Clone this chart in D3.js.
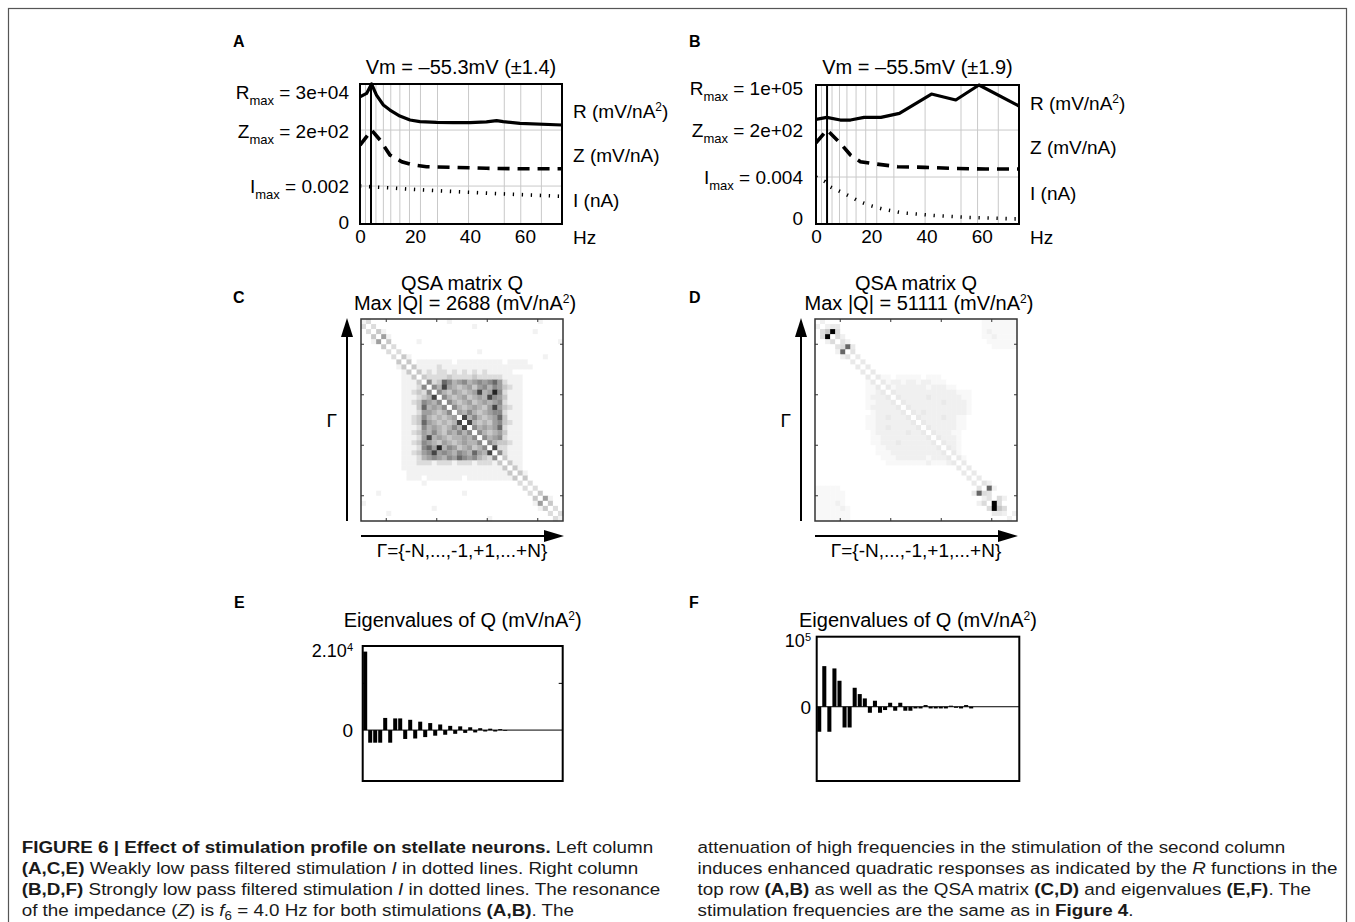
<!DOCTYPE html>
<html><head><meta charset="utf-8">
<script src="https://cdn.jsdelivr.net/npm/d3@7"></script>
<style>
body{margin:0;background:#fff}
svg{display:block}
text{font-family:"Liberation Sans",Arial,Helvetica,sans-serif;white-space:pre}
</style>
</head><body>
<svg id="fig" width="1355" height="922"></svg>
<script>
// ---------------- DATA ----------------
const xTicks = [0, 20, 40, 60];
const gridFreq = [2, 5.8, 8.5, 11.2, 14.5, 18, 22, 28.2, 39.5, 52.5, 58.5, 66];
const resonanceHz = 4;

// Panel A (values as fraction of max)
const aRfreq = [0, 2.4, 4.2, 6.0, 8.5, 10.9, 14.5, 18.2, 21.8, 27.9, 33.9, 40, 46, 49.7, 52.1, 58.2, 73.5];
const aR     = [0.909, 0.933, 1.0, 0.921, 0.85, 0.814, 0.771, 0.743, 0.731, 0.726, 0.724, 0.724, 0.729, 0.738, 0.731, 0.719, 0.707];
const aZfreq = [0, 2.4, 4.2, 7.3, 10.9, 15.2, 19.4, 24.2, 33.9, 46, 58.2, 73.5];
const aZ     = [0.84, 0.93, 1.0, 0.894, 0.734, 0.663, 0.628, 0.61, 0.603, 0.593, 0.588, 0.588];
const aIfreq = [0, 10, 20, 30, 40, 50, 60, 73.5];
const aI     = [1.0, 0.955, 0.91, 0.87, 0.835, 0.80, 0.77, 0.73];
const aLevels = [1, 0.671, 0.271];   // R, Z, I reference lines

// Panel B
const bRfreq = [0, 3.9, 8.8, 12.5, 17.4, 23.5, 30.2, 41.8, 50.6, 59.0, 73.5];
const bR     = [0.753, 0.767, 0.748, 0.748, 0.767, 0.767, 0.796, 0.935, 0.892, 1.0, 0.849];
const bZfreq = [0, 4, 8.8, 12.5, 16.1, 19.8, 29.6, 39.4, 49.2, 61.4, 73.5];
const bZ     = [0.865, 1.0, 0.86, 0.734, 0.663, 0.646, 0.61, 0.603, 0.592, 0.585, 0.585];
const bIfreq = [0, 3.3, 5.1, 8.8, 12.5, 16.1, 19.8, 24.7, 30.8, 37, 43, 49.2, 55.3, 61.4, 71.2, 73.5];
const bI     = [1.0, 0.90, 0.79, 0.69, 0.58, 0.47, 0.39, 0.31, 0.24, 0.21, 0.18, 0.16, 0.14, 0.13, 0.11, 0.11];
const bLevels = [1, 0.676, 0.338];

// QSA matrices (grey level per cell, base-36 digits, row 0 = top)
const matrixC = [
"1200000000000000010000000000000000010000",
"2020000000000000000000100000000000000000",
"0203100000000000000000000000000000100000",
"0030510000000000000000000000000000000000",
"0015030000010000000000000000000000000001",
"0000302000000000000000000000000000000000",
"0000020200000000000000010000000000000000",
"0000002031000000000000000000000000001000",
"0000000303011111110111111111011110000000",
"0000000130311112111111111111111111000000",
"0000000013031212212121212111110000000000",
"0000000011303222232222322222111100000000",
"0000000011130623764564565675211100000000",
"0000000011126064854345356465321100000000",
"0000000011232606435434584596211100000000",
"0000000011123480643453454865311100000000",
"0000000011236546064345345456211100000000",
"0000000011137454606434543585321100000000",
"0000000011125543460546434566211100000000",
"0000000011236434345084643457311100000000",
"0000000011237543434808434356321100000000",
"0000000011126454346480645457211100000000",
"0000000011235464354646064345311100000000",
"0000000011125845434454606456211100000000",
"0000000011236543543454460643321100000000",
"0000000011126759465345346082211100000000",
"0000000011235685654654754806211100000000",
"0000000011124565465765643260311100000000",
"0000000011122212221222122213031100000000",
"0000000011111111111111111111303100000000",
"0000000001111111111111111111130310000000",
"0000000001110111111101111111113030000000",
"0000000000001000000000000000000202000000",
"0000000000000000000000000000000020200000",
"0001000000000000000010000000000002030000",
"0000000000000000000000000000000000305100",
"1000000000000000000000000000000000150300",
"0000000000000010000000000000000000013020",
"0000010000000000000000000000000000000202",
"0000000000000000000000000100000000000021"];
const matrixCdomain = [0, 1, 2, 6, 10];

const matrixD = [
"0200000000000000000000000000000001111111",
"2023300000000000000000000000000001111111",
"058z500000000000000000000000000001211111",
"05z0520000000000000000000000000001121111",
"0025042000000000000000000000000000111111",
"000045l300000000000000000000000000011111",
"00002l0400000000000000000000000000000000",
"0000024030000000000000000000000000000000",
"0000000303000000000000000000000000000000",
"0000000030300000000000000000000000000000",
"0000000003030000000000000000000000000000",
"0000000000303110111110111000000000000000",
"0000000000130312212212211100000000000000",
"0000000000113031222222122211000000000000",
"0000000000112303222222222222111000000000",
"0000000000122230322222322222211000000000",
"0000000000112223032222222322221000000000",
"0000000000122222303222222222221000000000",
"0000000000012222230323222222221000000000",
"0000000000112232223032222322110000000000",
"0000000000112222222303222222110000000000",
"0000000000112232222230322222110000000000",
"0000000000012222223223032221100000000000",
"0000000000011222222222303222100000000000",
"0000000000011222322222230322100000000000",
"0000000000001122222222223032100000000000",
"0000000000001112222222222303100000000000",
"0000000000000111222222122230310000000000",
"0000000000000011111111211123030000000000",
"0000000000000000000000000000303000000000",
"0000000000000000000000000000030300000000",
"0000000000000000000000000000003030000000",
"0000000000000000000000000000000304200000",
"1111100000000000000000000000000040l20000",
"11111100000000000000000000000003l5400000",
"1111110000000000000000000000000002405200",
"11112100000000000000000000000000250z5000",
"11111210000000000000000000000000005z8500",
"1111111000000000000000000000000000033202",
"1111111000000000000000000000000000000020"];
const matrixDdomain = [0, 35];

// Eigenvalues (mV/nA^2), in plotted order
const eigE = [16800, -2700, -2700, -2700, 2600, -2700, 2500, 2500, -1900, 2200, -1800, 1800, -1500, 1500, -1200, 1200, -1000, 900, -800, 800, -600, 600, -500, 400, -300, 300, -300, 200, -150, 0, 0, 0, 0, 0, 0, 0, 0, 0, 0, 0];
const eigF = [-35700, 58000, -35700, 54700, 37100, -29600, -29600, 27100, 18100, 11900, -8600, 8600, -8600, -4700, 5700, -5700, 5700, -5700, -5700, -2400, -2400, 2400, -2400, -2400, -2400, -2400, 1500, -1500, -2400, 2400, -2400, 0, 0, 0, 0, 0, 0, 0, 0, 0];

// Caption
const captionLeft = [
  [["FIGURE 6 | Effect of stimulation profile on stellate neurons.","b"],[" Left column",""]],
  [["(A,C,E)","b"],[" Weakly low pass filtered stimulation ",""],["I","i"],[" in dotted lines. Right column",""]],
  [["(B,D,F)","b"],[" Strongly low pass filtered stimulation ",""],["I","i"],[" in dotted lines. The resonance",""]],
  [["of the impedance (",""],["Z","i"],[") is ",""],["f","i"],["6","sub"],[" = 4.0 Hz for both stimulations ",""],["(A,B)","b"],[". The",""]]
];
const captionRight = [
  [["attenuation of high frequencies in the stimulation of the second column",""]],
  [["induces enhanced quadratic responses as indicated by the ",""],["R","i"],[" functions in the",""]],
  [["top row ",""],["(A,B)","b"],[" as well as the QSA matrix ",""],["(C,D)","b"],[" and eigenvalues ",""],["(E,F)","b"],[". The",""]],
  [["stimulation frequencies are the same as in ",""],["Figure 4","b"],[".",""]]
];

// ---------------- DRAWING ----------------
const svg = d3.select("#fig");
svg.append("rect").attr("x",8.5).attr("y",8.5).attr("width",1338).attr("height",1000)
   .attr("fill","none").attr("stroke","#555").attr("stroke-width",1.2);

const FS = 20;

function panelLetter(x, y, s){
  svg.append("text").attr("x",x).attr("y",y).attr("font-size",16).attr("font-weight","bold").text(s);
}

function subLabel(g, x, y, main, sub, rest){
  const t = g.append("text").attr("x",x).attr("y",y).attr("font-size",19).attr("text-anchor","end");
  t.append("tspan").text(main);
  t.append("tspan").attr("font-size",13).attr("dy",6).text(sub);
  t.append("tspan").attr("dy",-6).text(rest);
  return t;
}

function linePanel(cfg){
  const g = svg.append("g");
  const x = d3.scaleLinear().domain([0, 73.5]).range([cfg.x0, cfg.x1]);
  const y = d3.scaleLinear().domain([0, 1]).range([cfg.y1, cfg.y0]);
  g.selectAll("line.vg").data(cfg.grid).join("line")
    .attr("x1",d=>x(d)).attr("x2",d=>x(d)).attr("y1",cfg.y0).attr("y2",cfg.y1)
    .attr("stroke","#c9c9c9").attr("stroke-width",1);
  g.selectAll("line.hg").data(cfg.levels.slice(1)).join("line")
    .attr("x1",cfg.x0).attr("x2",cfg.x1).attr("y1",d=>y(d)).attr("y2",d=>y(d))
    .attr("stroke","#c9c9c9").attr("stroke-width",1);
  g.append("line").attr("x1",x(resonanceHz)).attr("x2",x(resonanceHz)).attr("y1",cfg.y0).attr("y2",cfg.y1)
    .attr("stroke","#000").attr("stroke-width",2);
  const mk = (fr, vals, lvl) => d3.line().x(d=>x(d[0])).y(d=>y(d[1]*lvl))(fr.map((f,i)=>[f, vals[i]]));
  const clip = "clip"+cfg.id;
  g.append("clipPath").attr("id",clip).append("rect")
    .attr("x",cfg.x0).attr("y",cfg.y0-3).attr("width",cfg.x1-cfg.x0).attr("height",cfg.y1-cfg.y0+3);
  const cg = g.append("g").attr("clip-path",`url(#${clip})`);
  cg.append("path").attr("d",mk(cfg.Rf,cfg.R,cfg.levels[0])).attr("fill","none").attr("stroke","#000").attr("stroke-width",3.2).attr("stroke-linejoin","round");
  cg.append("path").attr("d",mk(cfg.Zf,cfg.Z,cfg.levels[1])).attr("fill","none").attr("stroke","#000").attr("stroke-width",3.6).attr("stroke-dasharray","12,8");
  cg.append("path").attr("d",mk(cfg.If,cfg.I,cfg.levels[2])).attr("fill","none").attr("stroke","#000").attr("stroke-width",3.6).attr("stroke-dasharray","1.3,7.7");
  g.append("rect").attr("x",cfg.x0).attr("y",cfg.y0).attr("width",cfg.x1-cfg.x0).attr("height",cfg.y1-cfg.y0)
    .attr("fill","none").attr("stroke","#000").attr("stroke-width",2);
  const ax = g.append("g").attr("transform",`translate(0,${cfg.y1})`)
    .call(d3.axisBottom(x).tickValues(xTicks).tickSize(0).tickPadding(6).tickFormat(d3.format("d")));
  ax.select(".domain").remove();
  ax.selectAll("text").attr("font-size",19).attr("font-family",'"Liberation Sans",Arial,sans-serif').attr("fill","#000");
  g.append("text").attr("x",cfg.x1+11).attr("y",cfg.y1+19.5).attr("font-size",19).text("Hz");
  g.append("text").attr("x",(cfg.x0+cfg.x1)/2).attr("y",cfg.titleY).attr("text-anchor","middle").attr("font-size",FS).text(cfg.title);
  subLabel(g, cfg.labX, cfg.labY[0], "R", "max", " = "+cfg.maxs[0]);
  subLabel(g, cfg.labX, cfg.labY[1], "Z", "max", " = "+cfg.maxs[1]);
  subLabel(g, cfg.labX, cfg.labY[2], "I", "max", " = "+cfg.maxs[2]);
  g.append("text").attr("x",cfg.labX).attr("y",cfg.labY[3]).attr("text-anchor","end").attr("font-size",19).text("0");
  const rl = g.append("text").attr("x",cfg.x1+11).attr("y",cfg.rY[0]).attr("font-size",19).text("R (mV/nA");
  rl.append("tspan").attr("font-size",12).attr("dy",-7).text("2");
  rl.append("tspan").attr("dy",7).text(")");
  g.append("text").attr("x",cfg.x1+11).attr("y",cfg.rY[1]).attr("font-size",19).text("Z (mV/nA)");
  g.append("text").attr("x",cfg.x1+11).attr("y",cfg.rY[2]).attr("font-size",19).text("I (nA)");
}

linePanel({id:"A", x0:360, x1:562, y0:84, y1:224, grid:gridFreq, levels:aLevels,
  Rf:aRfreq, R:aR, Zf:aZfreq, Z:aZ, If:aIfreq, I:aI,
  title:"Vm = \u201355.3mV (\u00b11.4)", titleY:73.5, labX:349, labY:[98.5,137.5,192.5,229],
  maxs:["3e+04","2e+02","0.002"], rY:[118,161.5,206.5]});
linePanel({id:"B", x0:816, x1:1019, y0:85, y1:224, grid:gridFreq, levels:bLevels,
  Rf:bRfreq, R:bR, Zf:bZfreq, Z:bZ, If:bIfreq, I:bI,
  title:"Vm = \u201355.5mV (\u00b11.9)", titleY:73.5, labX:803, labY:[95,136.5,184,225],
  maxs:["1e+05","2e+02","0.004"], rY:[110,154,200]});

panelLetter(233, 47, "A");
panelLetter(689, 47, "B");
panelLetter(233, 303, "C");
panelLetter(689, 303, "D");
panelLetter(234, 608, "E");
panelLetter(689, 608, "F");

function arrowHead(g, x, y, dir){
  const p = dir==="up" ? [[x,y],[x-6,y+19],[x+6,y+19]] : [[x,y],[x-20,y-6],[x-20,y+6]];
  g.append("path").attr("d", d3.line()(p)+"Z").attr("fill","#000");
}

function matrixPanel(cfg){
  const g = svg.append("g");
  const n = cfg.rows.length;
  const xs = d3.scaleBand().domain(d3.range(n)).range([cfg.x0, cfg.x0+cfg.size]);
  const ys = d3.scaleBand().domain(d3.range(n)).range([cfg.y0, cfg.y0+cfg.size]);
  const color = d3.scaleLinear().domain(cfg.domain).range(cfg.range).clamp(true);
  const cells = cfg.rows.flatMap((s,r)=>s.split("").map((ch,c)=>({r,c,v:parseInt(ch,36)})));
  g.selectAll("rect.cell").data(cells).join("rect")
    .attr("x",d=>xs(d.c)).attr("y",d=>ys(d.r))
    .attr("width",xs.bandwidth()+0.4).attr("height",ys.bandwidth()+0.4)
    .attr("fill",d=>color(d.v));
  g.append("rect").attr("x",cfg.x0).attr("y",cfg.y0).attr("width",cfg.size).attr("height",cfg.size)
    .attr("fill","none").attr("stroke","#333").attr("stroke-width",1.5);
  const tk = [5,15,25,35].map(t=>xs(t));
  const ty = [5,15,25,35].map(t=>ys(t));
  tk.forEach(px=>{
    g.append("line").attr("x1",px).attr("x2",px).attr("y1",cfg.y0).attr("y2",cfg.y0+3).attr("stroke","#333");
    g.append("line").attr("x1",px).attr("x2",px).attr("y1",cfg.y0+cfg.size).attr("y2",cfg.y0+cfg.size-3).attr("stroke","#333");
  });
  ty.forEach(py=>{
    g.append("line").attr("y1",py).attr("y2",py).attr("x1",cfg.x0).attr("x2",cfg.x0+3).attr("stroke","#333");
    g.append("line").attr("y1",py).attr("y2",py).attr("x1",cfg.x0+cfg.size).attr("x2",cfg.x0+cfg.size-3).attr("stroke","#333");
  });
  const cx = cfg.x0+cfg.size/2;
  g.append("text").attr("x",cx).attr("y",290).attr("text-anchor","middle").attr("font-size",FS).text("QSA matrix Q");
  const t2 = g.append("text").attr("x",cx+3).attr("y",310).attr("text-anchor","middle").attr("font-size",FS)
     .text("Max |Q| = "+cfg.maxQ+" (mV/nA");
  t2.append("tspan").attr("font-size",12).attr("dy",-7).text("2");
  t2.append("tspan").attr("dy",7).text(")");
  const ax = cfg.x0-14;
  g.append("line").attr("x1",ax).attr("x2",ax).attr("y1",cfg.y0+cfg.size).attr("y2",cfg.y0+8).attr("stroke","#000").attr("stroke-width",2);
  arrowHead(g, ax, cfg.y0-1, "up");
  const ay = cfg.y0+cfg.size+15;
  g.append("line").attr("x1",cfg.x0).attr("x2",cfg.x0+cfg.size-8).attr("y1",ay).attr("y2",ay).attr("stroke","#000").attr("stroke-width",2);
  arrowHead(g, cfg.x0+cfg.size+1, ay, "right");
  g.append("text").attr("x",ax-10).attr("y",427).attr("text-anchor","end").attr("font-size",19).text("\u0393");
  g.append("text").attr("x",cx).attr("y",557).attr("text-anchor","middle").attr("font-size",19).text("\u0393={-N,...,-1,+1,...+N}");
}

matrixPanel({rows:matrixC, domain:matrixCdomain, range:["#ffffff","#f2f2f2","#dcdcdc","#8a8a8a","#000000"], x0:361, y0:319, size:202, maxQ:"2688"});
matrixPanel({rows:matrixD, domain:matrixDdomain, range:["#ffffff","#000000"], x0:815, y0:319, size:202, maxQ:"51111"});

function eigPanel(cfg){
  const g = svg.append("g");
  const x = d3.scaleBand().domain(d3.range(cfg.vals.length)).range([cfg.x0, cfg.x1]).paddingInner(0.2).paddingOuter(0.1);
  const y = d3.scaleLinear().domain(cfg.dom).range([cfg.y1, cfg.y0]);
  g.append("line").attr("x1",cfg.x0).attr("x2",cfg.x1).attr("y1",y(0)).attr("y2",y(0)).attr("stroke","#000").attr("stroke-width",1);
  g.selectAll("rect.bar").data(cfg.vals).join("rect")
    .attr("x",(d,i)=>x(i)).attr("width",x.bandwidth())
    .attr("y",d=>y(Math.max(0,d))).attr("height",d=>Math.abs(y(d)-y(0)))
    .attr("fill","#000");
  g.append("rect").attr("x",cfg.x0).attr("y",cfg.y0).attr("width",cfg.x1-cfg.x0).attr("height",cfg.y1-cfg.y0)
    .attr("fill","none").attr("stroke","#000").attr("stroke-width",2);
  (cfg.ticks||[]).forEach(v=>{
    g.append("line").attr("x1",cfg.x1).attr("x2",cfg.x1-4).attr("y1",y(v)).attr("y2",y(v)).attr("stroke","#000");
    g.append("line").attr("x1",cfg.x0).attr("x2",cfg.x0+4).attr("y1",y(v)).attr("y2",y(v)).attr("stroke","#000");
  });
  const cx = (cfg.x0+cfg.x1)/2;
  const t = g.append("text").attr("x",cx).attr("y",627).attr("text-anchor","middle").attr("font-size",FS).text("Eigenvalues of Q (mV/nA");
  t.append("tspan").attr("font-size",12).attr("dy",-7).text("2");
  t.append("tspan").attr("dy",7).text(")");
  const tl = g.append("text").attr("x",cfg.labX).attr("y",cfg.topLabY).attr("text-anchor","end").attr("font-size",18).text(cfg.topLab);
  tl.append("tspan").attr("font-size",11).attr("dy",-6).text(cfg.topSup);
  g.append("text").attr("x",cfg.labX).attr("y",y(0)+7).attr("text-anchor","end").attr("font-size",19).text("0");
}

eigPanel({vals:eigE, x0:362.7, x1:562.7, y0:646, y1:781, dom:[-10900, 18000], ticks:[10000],
  labX:353, topLab:"2.10", topSup:"4", topLabY:657});
eigPanel({vals:eigF, x0:816.7, x1:1019.3, y0:636.7, y1:781, dom:[-106000, 100000], ticks:[],
  labX:811, topLab:"10", topSup:"5", topLabY:647});

// caption
const capFont = '"Liberation Sans",Arial,sans-serif';
function makeCaptionLine(segs){
  const t = svg.append("text").attr("font-size",17).attr("font-family",capFont).attr("fill","#1a1a1a");
  let shifted = false;
  segs.forEach(([s, st])=>{
    const ts = t.append("tspan").text(s);
    if (st==="b") ts.attr("font-weight","bold");
    if (st==="i") ts.attr("font-style","italic");
    if (st==="sub") { ts.attr("font-size",12).attr("dy",4); shifted = true; }
    else if (shifted) { ts.attr("dy",-4); shifted = false; }
  });
  return t;
}
const capY = [853, 874, 895, 916];
const leftLines = captionLeft.map(makeCaptionLine);
const rightLines = captionRight.map(makeCaptionLine);
const sx = ((629 / leftLines[0].node().getComputedTextLength()) + (591 / rightLines[0].node().getComputedTextLength()))/2;
leftLines.forEach((t,i)=>t.attr("transform",`translate(21.7,${capY[i]}) scale(${sx},1)`));
rightLines.forEach((t,i)=>t.attr("transform",`translate(697.5,${capY[i]}) scale(${sx},1)`));
</script>
</body></html>
